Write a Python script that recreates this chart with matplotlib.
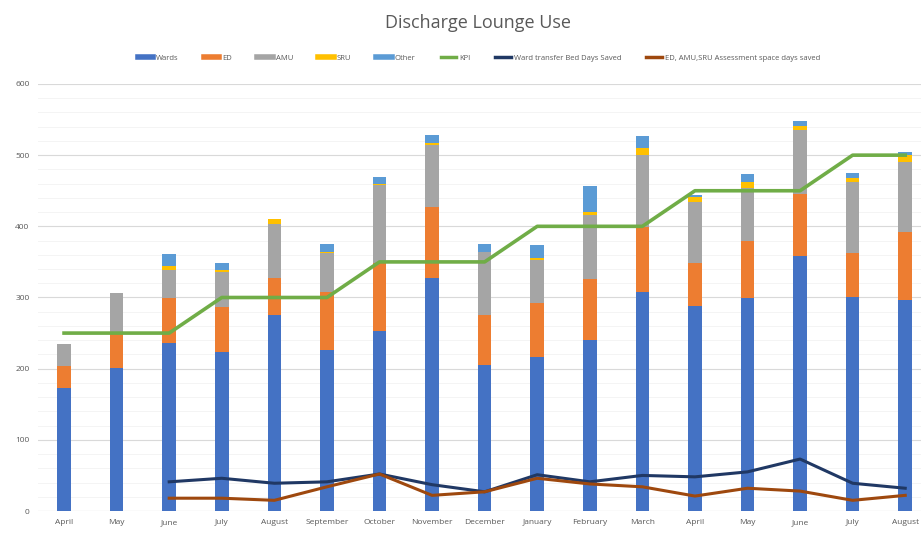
import numpy as np
import matplotlib
matplotlib.use("Agg")
import matplotlib.pyplot as plt
from matplotlib.lines import Line2D

months = ["April", "May", "June", "July", "August", "September", "October", "November",
          "December", "January", "February", "March", "April", "May", "June", "July", "August"]
wards = [173, 201, 236, 223, 275, 226, 253, 327, 205, 216, 240, 308, 288, 299, 358, 301, 296]
ed    = [31, 48, 63, 63, 52, 82, 95, 100, 70, 76, 86, 91, 60, 80, 87, 61, 96]
amu   = [31, 57, 39, 50, 76, 54, 110, 87, 89, 60, 90, 101, 86, 75, 90, 100, 98]
sru   = [0, 0, 6, 2, 7, 2, 2, 3, 0, 3, 4, 10, 7, 8, 6, 6, 10]
other = [0, 0, 17, 10, 0, 11, 9, 12, 11, 19, 36, 17, 3, 11, 7, 7, 4]
kpi   = [250, 250, 250, 300, 300, 300, 350, 350, 350, 400, 400, 400, 450, 450, 450, 500, 500]
ward_transfer = [np.nan, np.nan, 41, 46, 39, 41, 52, 37, 27, 51, 41, 50, 48, 55, 73, 39, 32]
assess_saved  = [np.nan, np.nan, 18, 18, 15, 34, 52, 22, 27, 46, 38, 34, 21, 32, 28, 15, 22]

c_wards, c_ed, c_amu, c_sru, c_other = "#4472C4", "#ED7D31", "#A5A5A5", "#FFC000", "#5B9BD5"
c_kpi, c_navy, c_brown = "#70AD47", "#203864", "#9E480E"

plt.rcParams['font.family'] = ['Open Sans', 'DejaVu Sans']
fig = plt.figure(figsize=(9.21, 5.37), dpi=100)
ax = fig.add_axes([0.041, 0.0484, 0.959, 0.7952])

x = np.arange(len(months))
w = 0.26
bottom = np.zeros(len(months))
for vals, col in [(wards, c_wards), (ed, c_ed), (amu, c_amu), (sru, c_sru), (other, c_other)]:
    v = np.array(vals, dtype=float)
    ax.bar(x, v, w, bottom=bottom, color=col, zorder=2)
    bottom += v

ax.plot(x, kpi, color=c_kpi, lw=2.6, zorder=3)
ax.plot(x, ward_transfer, color=c_navy, lw=2.2, zorder=3)
ax.plot(x, assess_saved, color=c_brown, lw=2.2, zorder=3)

ax.set_xlim(-0.5, 16.3)
ax.set_ylim(0, 600)
ax.set_yticks(np.arange(0, 601, 100))
ax.yaxis.set_minor_locator(matplotlib.ticker.MultipleLocator(20))
ax.grid(axis='y', which='major', color='#d9d9d9', lw=0.8, zorder=0)
ax.grid(axis='y', which='minor', color='#f2f2f2', lw=0.6, zorder=0)
ax.set_xticks(x)
ax.set_xticklabels(months)
ax.tick_params(axis='both', which='both', length=0, labelsize=6, colors='#595959', pad=6)
for s in ax.spines.values():
    s.set_visible(False)
ax.axhline(0, color='#d9d9d9', lw=0.8, zorder=1)

fig.text(0.519, 0.958, "Discharge Lounge Use", ha='center', va='center',
         fontsize=13, color='#595959')

handles = [
    Line2D([], [], color=c_wards, lw=4), Line2D([], [], color=c_ed, lw=4),
    Line2D([], [], color=c_amu, lw=4), Line2D([], [], color=c_sru, lw=4),
    Line2D([], [], color=c_other, lw=4), Line2D([], [], color=c_kpi, lw=2.5),
    Line2D([], [], color=c_navy, lw=2.5), Line2D([], [], color=c_brown, lw=2.5),
]
labels = ["Wards", "ED", "AMU", "SRU", "Other", "KPI", "Ward transfer Bed Days Saved",
          "ED, AMU,SRU Assessment space days saved"]
leg = fig.legend(handles, labels, loc='center', bbox_to_anchor=(0.52, 0.892), ncol=8,
                 frameon=False, fontsize=5.5, handlelength=2.0, columnspacing=3.3,
                 handletextpad=0.4)
for t in leg.get_texts():
    t.set_color('#595959')

fig.savefig("out.png", dpi=100, facecolor='white')
